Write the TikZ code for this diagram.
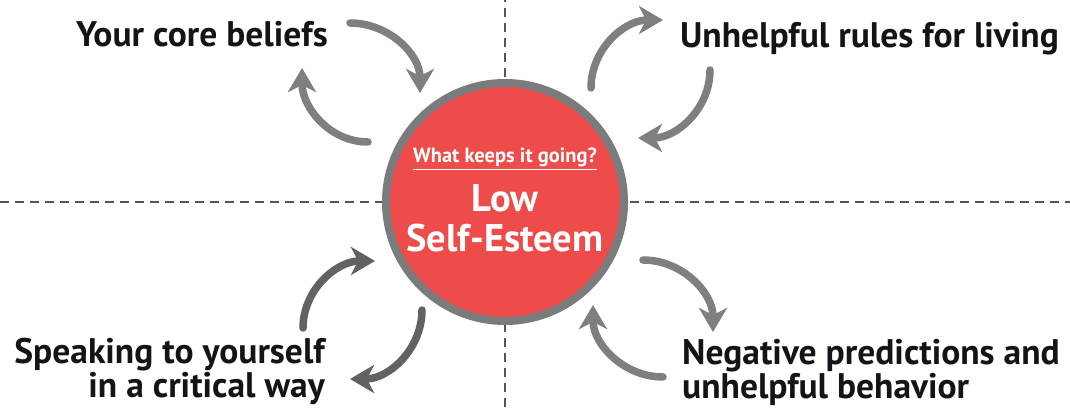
\documentclass[tikz,border=0pt]{standalone}
\usepackage{fontspec}
\setmainfont{PT Sans}
\usetikzlibrary{arrows.meta}
\definecolor{esteemred}{RGB}{238,75,75}
\definecolor{ringgray}{RGB}{121,123,124}
\definecolor{loopgray}{RGB}{125,127,128}
\definecolor{loopdark}{RGB}{96,98,100}
\definecolor{inkblack}{RGB}{18,20,24}
\definecolor{axisgray}{RGB}{85,85,85}

\begin{document}
\begin{tikzpicture}[x=1pt, y=1pt,
    loop/.style={line width=7.5, line cap=round, loopgray, -{Stealth[length=24pt, width=28pt, inset=7pt]}},
    label/.style={inner sep=0, text=inkblack, font=\fontsize{35.5}{30}\selectfont\bfseries}]
      \useasboundingbox (0,0) rectangle (1070,407);
      \coordinate (O) at (505,205);
      % quadrant lines
      \draw[axisgray, line width=1.5, dash pattern=on 9pt off 6pt] (0,205)--(1070,205);
      \draw[axisgray, line width=1.5, dash pattern=on 9pt off 6pt] (505,0)--(505,407);
      % centre
      \node[circle, draw=ringgray, line width=8, fill=esteemred, minimum size=238, inner sep=0] (esteem) at (O) {};
      \node[text=white, inner sep=0, anchor=base, font=\fontsize{20.5}{20}\selectfont\bfseries] (keeps) at (505,244) {\underline{What keeps it going?}};
      \node[text=white, inner sep=0, anchor=base, font=\fontsize{38.5}{40}\selectfont\bfseries] (low) at (505,195) {Low};
      \node[text=white, inner sep=0, anchor=base, font=\fontsize{38.5}{40}\selectfont\bfseries] (selfesteem) at (505,155) {Self-Esteem};
      % labels
      \node[label, anchor=base east] (beliefs) at (328,360) {Your core beliefs};
      \node[label, anchor=base west] (rules) at (680,359) {Unhelpful rules for living};
      \node[label, anchor=base east, align=right] (speaking) at (325,10) {Speaking to yourself\\in a critical way};
      \node[label, anchor=base west, align=left] (predictions) at (682,9) {Negative predictions and\\unhelpful behavior};
      % loop ends
      \coordinate (tl-a) at (350,384); \coordinate (tl-b) at (420,314);
      \coordinate (tl-c) at (368,265); \coordinate (tl-d) at (302,339);
      \coordinate (tr-a) at (591,319); \coordinate (tr-b) at (663,387);
      \coordinate (tr-c) at (710,337); \coordinate (tr-d) at (638,269);
      \coordinate (bl-a) at (303,79);  \coordinate (bl-b) at (375,146);
      \coordinate (bl-c) at (422,97);  \coordinate (bl-d) at (350,28);
      \coordinate (br-a) at (643,147); \coordinate (br-b) at (713,75);
      \coordinate (br-c) at (663,30);  \coordinate (br-d) at (593,102);
      % loops
      \draw[loop] (tl-a) to[out=0, in=90] (tl-b);
      \draw[loop] (tl-c) to[out=180, in=-90] (tl-d);
      \draw[loop] (tr-a) to[out=90, in=180] (tr-b);
      \draw[loop] (tr-c) to[out=-90, in=0] (tr-d);
      \draw[loop, loopdark] (bl-a) to[out=90, in=180] (bl-b);
      \draw[loop, loopdark] (bl-c) to[out=-90, in=0] (bl-d);
      \draw[loop] (br-a) to[out=0, in=90] (br-b);
      \draw[loop] (br-c) to[out=180, in=-90] (br-d);
\end{tikzpicture}
\end{document}
